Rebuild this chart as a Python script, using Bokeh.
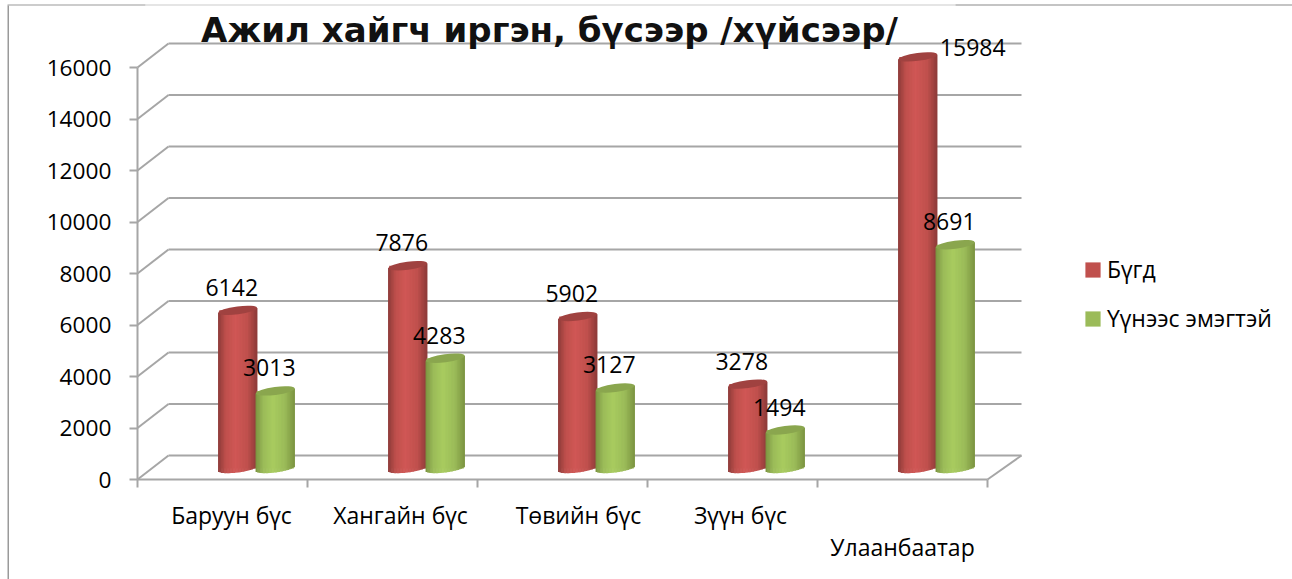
from bokeh.plotting import figure
from bokeh.embed import file_html
from bokeh.resources import INLINE
from bokeh.core.properties import value
from bokeh.models import (Range1d, LinearAxis, FixedTicker, Label, LabelSet, ColumnDataSource,
                          Legend, LegendItem, BoxAnnotation)

categories = ["Баруун бүс", "Хангайн бүс", "Төвийн бүс", "Зүүн бүс", "Улаанбаатар"]
total = [6142, 7876, 5902, 3278, 15984]
female = [3013, 4283, 3127, 1494, 8691]
series_names = ["Бүгд", "Үүнээс эмэгтэй"]
y_ticks = [0, 2000, 4000, 6000, 8000, 10000, 12000, 14000, 16000]
title_text = "Ажил хайгч иргэн, бүсээр /хүйсээр/"

W, H = 1292, 579
ORIGIN_X, ORIGIN_Y = 137, 479
PX_X = 170.0
PX_Y = 412.0 / 16000
FONT = "Open Sans"
GRID = "#a6a6a6"

def dx(px):
    return px / PX_X

def dy(px):
    return px / PX_Y

p = figure(width=W, height=H, output_backend="svg", toolbar_location=None,
           x_range=Range1d(-ORIGIN_X / PX_X, (W - ORIGIN_X) / PX_X),
           y_range=Range1d(-(H - ORIGIN_Y) / PX_Y, ORIGIN_Y / PX_Y),
           x_axis_type=None, y_axis_type=None, min_border=0, outline_line_color=None,
           background_fill_color="white")
p.grid.visible = False

# axes
ya = LinearAxis(fixed_location=0, ticker=FixedTicker(ticks=y_ticks), bounds=(0, 16000), axis_line_color=GRID,
                axis_line_width=2, major_tick_line_color=GRID, major_tick_line_width=2, major_tick_in=0,
                major_tick_out=8, minor_tick_line_color=None, major_label_text_font=FONT,
                major_label_text_font_size="22.7px", major_label_text_color="black", major_label_standoff=18)
p.add_layout(ya, "left")
xa = LinearAxis(fixed_location=0, ticker=FixedTicker(ticks=list(range(len(categories) + 1))),
                bounds=(0, len(categories)), axis_line_color=GRID, axis_line_width=2,
                major_tick_line_color=GRID, major_tick_line_width=2, major_tick_in=0, major_tick_out=8,
                minor_tick_line_color=None, major_label_text_color=None, major_label_text_font_size="1px")
p.add_layout(xa, "below")

# back wall gridlines and floor edges
back_dx, back_dy = dx(31), dy(24)
n = len(categories)
p.segment(x0=[0] * len(y_ticks), y0=y_ticks, x1=[back_dx] * len(y_ticks), y1=[v + back_dy for v in y_ticks],
          line_color=GRID, line_width=2)
p.segment(x0=[back_dx] * len(y_ticks), y0=[v + back_dy for v in y_ticks], x1=[n + dx(34)] * len(y_ticks),
          y1=[v + back_dy for v in y_ticks], line_color=GRID, line_width=2)
p.segment(x0=[n], y0=[0], x1=[n + dx(34)], y1=[back_dy], line_color=GRID, line_width=2)

# cylinders
R = 19.5
B = 4.0
SLANT = 2.5
BASE_PX = 11
GAP_PX = 34
PITCH = 18.75
STRIPS = 26

def lerp(a, b, t):
    return tuple(a[i] + (b[i] - a[i]) * t for i in range(3))

def hexa(c):
    return "#%02x%02x%02x" % tuple(int(round(v)) for v in c)

def shade(u, dark, mid, light):
    t = (u + 1) / 2
    if t < 0.2:
        return hexa(lerp(dark, mid, t / 0.2))
    if t < 0.45:
        return hexa(lerp(mid, light, (t - 0.2) / 0.25))
    if t < 0.75:
        return hexa(lerp(light, mid, (t - 0.45) / 0.3))
    return hexa(lerp(mid, dark, (t - 0.75) / 0.25))

def cylinder(values, side, dark, mid, light, cap):
    centers = [i + 0.5 + dx(GAP_PX + side * PITCH) for i in range(len(values))]
    base = p.vbar(x=centers, width=dx(2 * R - 2), bottom=[dy(BASE_PX)] * len(values),
                  top=[v + dy(BASE_PX) for v in values], fill_color=hexa(mid), line_color=None)
    xs, tops, bots, cols = [], [], [], []
    for c, v in zip(centers, values):
        for k in range(STRIPS):
            u = -1 + (2 * k + 1) / STRIPS
            xs.append(c + dx(u * R))
            tops.append(v + dy(BASE_PX + u * SLANT))
            bots.append(dy(BASE_PX + u * SLANT - B * (1 - u * u) ** 0.5))
            cols.append(shade(u, dark, mid, light))
    p.vbar(x=xs, width=dx(2 * R / STRIPS + 0.4), top=tops, bottom=bots, fill_color=cols, line_color=None)
    p.ellipse(x=centers, y=[v + dy(BASE_PX) for v in values], width=2 * R, height=2 * B,
              width_units="screen", height_units="screen", angle=0.13, fill_color=cap, line_color=None)
    return base

r_total = cylinder(total, -1, (140, 58, 56), (192, 80, 77), (208, 87, 85), "#a04240")
r_female = cylinder(female, 1, (122, 147, 64), (155, 187, 89), (168, 204, 95), "#8aa64e")

# data labels
vals = total + female
lab_x = [i + 0.5 + dx(GAP_PX - PITCH - 6) for i in range(n)] + [i + 0.5 + dx(GAP_PX + PITCH - 6) for i in range(n)]
lab_xoff = [0, 0, 0, 0, 61] + [0] * n
lab_yoff = [34, 34, 34, 34, 20] + [34] * n
lab_src = ColumnDataSource(dict(x=lab_x, y=vals, t=[str(v) for v in vals], xo=lab_xoff, yo=lab_yoff))
p.add_layout(LabelSet(x="x", y="y", text="t", source=lab_src, x_offset="xo", y_offset="yo",
                      text_align="center", text_baseline="middle", text_font=value(FONT), text_font_size="23px",
                      text_color="black"))

# category labels
cat_src = ColumnDataSource(dict(x=[i + 0.5 for i in range(n)], y=[0] * n, t=categories,
                                xo=[9, 8, 16, 8, 0], yo=[-35, -35, -35, -35, -67]))
p.add_layout(LabelSet(x="x", y="y", text="t", source=cat_src, x_offset="xo", y_offset="yo",
                      text_align="center", text_baseline="middle", text_font=value(FONT), text_font_size="23px",
                      text_color="black"))

# title
p.add_layout(Label(x=549, y=H - 29, x_units="screen", y_units="screen", text=title_text, text_align="center",
                   text_baseline="middle", text_font="DejaVu Sans", text_font_style="bold",
                   text_font_size="34px", text_color="#111111"))

# legend
leg = Legend(items=[LegendItem(label=series_names[0], renderers=[r_total]),
                    LegendItem(label=series_names[1], renderers=[r_female])],
             location=(1083, H - 334), orientation="vertical", background_fill_alpha=0, border_line_color=None,
             padding=0, margin=0, spacing=17, glyph_width=19, glyph_height=19, label_standoff=5,
             label_text_font=FONT, label_text_font_size="23px", label_text_color="black", label_height=24)
p.add_layout(leg, "center")

# chart frame edges
EDGE_Y = H - 5
for kw in [dict(left=7, right=8.5, top=EDGE_Y, bottom=0, fill_color="#9a9a9a"),
           dict(left=7, right=145, top=EDGE_Y + 1, bottom=EDGE_Y, fill_color="#9a9a9a"),
           dict(left=145, right=955, top=EDGE_Y + 1, bottom=EDGE_Y, fill_color="#cccccc"),
           dict(left=955, right=W, top=EDGE_Y + 1, bottom=EDGE_Y, fill_color="#8a8a8a")]:
    p.add_layout(BoxAnnotation(left_units="screen", right_units="screen", top_units="screen", bottom_units="screen",
                               line_color=None, fill_alpha=1, **kw))

open("out.html", "w").write(file_html(p, INLINE))
